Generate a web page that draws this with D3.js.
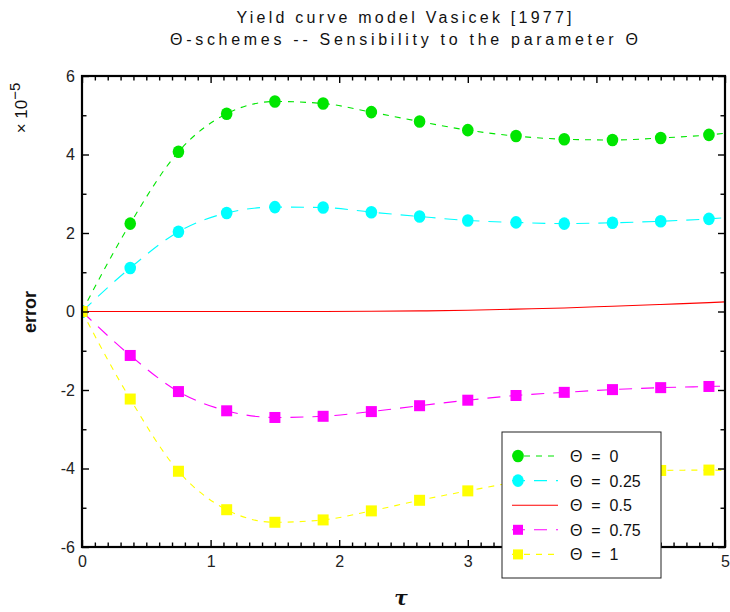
<!DOCTYPE html>
<html>
<head>
<meta charset="utf-8">
<script src="https://cdn.jsdelivr.net/npm/d3@7"></script>
<style>
  html, body { margin: 0; padding: 0; background: #fff; }
  svg { display: block; font-family: "Liberation Sans", Arial, sans-serif; }
</style>
</head>
<body>
<svg id="chart" width="730" height="612"></svg>
<script>
// ---- data ----
const tau = [0, 0.375, 0.75, 1.125, 1.5, 1.875, 2.25, 2.625, 3.0, 3.375, 3.75, 4.125, 4.5, 4.875, 5.0];
const theta0   = [0, 2.24, 4.07, 5.04, 5.35, 5.30, 5.08, 4.84, 4.62, 4.47, 4.39, 4.37, 4.42, 4.50, 4.54];
const theta025 = [0, 1.11, 2.03, 2.51, 2.66, 2.65, 2.53, 2.42, 2.32, 2.27, 2.24, 2.26, 2.30, 2.36, 2.39];
const theta05  = [0, 0, 0, 0, 0, 0, 0.005, 0.015, 0.03, 0.06, 0.09, 0.135, 0.18, 0.225, 0.245];
const theta075 = [0, -1.12, -2.04, -2.53, -2.70, -2.67, -2.55, -2.40, -2.26, -2.14, -2.06, -1.99, -1.94, -1.91, -1.90];
const theta1   = [0, -2.23, -4.07, -5.05, -5.37, -5.31, -5.08, -4.81, -4.57, -4.35, -4.21, -4.10, -4.05, -4.04, -4.05];
const seriesLabels = ["Θ = 0", "Θ = 0.25", "Θ = 0.5", "Θ = 0.75", "Θ = 1"];
const xTicks = [0, 1, 2, 3, 4, 5];
const xTickLabels = ["0", "1", "2", "3", "", "5"];
const yTicks = [-6, -4, -2, 0, 2, 4, 6];
const titleLines = ["Yield curve model Vasicek [1977]", "Θ-schemes -- Sensibility to the parameter Θ"];

// ---- styles ----
const styles = [
  { color: "#00e600", dash: "6,6",   marker: "circle" },
  { color: "#00ffff", dash: "13,9",  marker: "circle" },
  { color: "#ff0000", dash: null,    marker: null },
  { color: "#ff00ff", dash: "13,9",  marker: "square" },
  { color: "#ffff00", dash: "6,6",   marker: "square" }
];
const allValues = [theta0, theta025, theta05, theta075, theta1];

const svg = d3.select("#chart");
const L = 82, R = 725, T = 76, B = 547;
const x = d3.scaleLinear().domain([0, 5]).range([L, R]);
const y = d3.scaleLinear().domain([-6, 6]).range([B, T]);

svg.append("defs").append("clipPath").attr("id", "clip")
  .append("rect").attr("x", L).attr("y", T).attr("width", R - L).attr("height", B - T);

// ---- titles ----
const titleW = [335, 468];
titleLines.forEach((t, i) => {
  svg.append("text")
    .attr("x", 404).attr("y", 23 + i * 22)
    .attr("text-anchor", "middle")
    .attr("font-size", 16)
    .attr("fill", "#111")
    .attr("textLength", titleW[i]).attr("lengthAdjust", "spacing")
    .text(t);
});

// ---- series ----
const plot = svg.append("g").attr("clip-path", "url(#clip)");
const line = d3.line().x(d => x(d[0])).y(d => y(d[1])).curve(d3.curveMonotoneX);

allValues.forEach((vals, si) => {
  const st = styles[si];
  const pts = tau.map((t, i) => [t, vals[i]]);
  plot.append("path")
    .attr("d", line(pts))
    .attr("fill", "none")
    .attr("stroke", st.color)
    .attr("stroke-width", 1.1)
    .attr("stroke-dasharray", st.dash);
  const mpts = pts.filter((p, i) => i < pts.length - 1);
  if (st.marker === "circle") {
    plot.selectAll(null).data(mpts).enter().append("ellipse")
      .attr("cx", d => x(d[0])).attr("cy", d => y(d[1]))
      .attr("rx", 5.8).attr("ry", 6.3)
      .attr("fill", st.color);
  } else if (st.marker === "square") {
    plot.selectAll(null).data(mpts).enter().append("rect")
      .attr("x", d => x(d[0]) - 5.5).attr("y", d => y(d[1]) - 5.5)
      .attr("width", 11).attr("height", 11)
      .attr("fill", st.color);
  }
});

// ---- axes ----
const xMinor = d3.range(0, 50.5).map(i => i / 10).filter(v => Math.abs(v - Math.round(v)) > 1e-6);
const yMinor = [-5, -3, -1, 1, 3, 5];

function addAxis(axis, tx, ty) {
  const g = svg.append("g").attr("transform", `translate(${tx},${ty})`).call(axis);
  g.attr("font-size", 16).attr("font-family", "'Liberation Sans', Arial, sans-serif")
   .attr("color", "#000");
  g.selectAll(".tick line").attr("stroke-width", 1.4);
  g.selectAll(".tick text").attr("fill", "#222");
  return g;
}

// bottom
addAxis(d3.axisBottom(x).tickValues(xTicks).tickSizeInner(-7).tickSizeOuter(0).tickPadding(9)
  .tickFormat((d, i) => xTickLabels[i]), 0, B);
addAxis(d3.axisBottom(x).tickValues(xMinor).tickSizeInner(-4.5).tickSizeOuter(0).tickFormat(""), 0, B);
// top
addAxis(d3.axisTop(x).tickValues(xTicks).tickSizeInner(-7).tickSizeOuter(0).tickFormat(""), 0, T);
addAxis(d3.axisTop(x).tickValues(xMinor).tickSizeInner(-4.5).tickSizeOuter(0).tickFormat(""), 0, T);
// left
addAxis(d3.axisLeft(y).tickValues(yTicks).tickSizeInner(-7).tickSizeOuter(0).tickPadding(7)
  .tickFormat(d => String(d)), L, 0);
addAxis(d3.axisLeft(y).tickValues(yMinor).tickSizeInner(-4.5).tickSizeOuter(0).tickFormat(""), L, 0);
// right
addAxis(d3.axisRight(y).tickValues(yTicks).tickSizeInner(-7).tickSizeOuter(0).tickFormat(""), R, 0);
addAxis(d3.axisRight(y).tickValues(yMinor).tickSizeInner(-4.5).tickSizeOuter(0).tickFormat(""), R, 0);

// frame
svg.append("rect").attr("x", L).attr("y", T).attr("width", R - L).attr("height", B - T)
  .attr("fill", "none").attr("stroke", "#000").attr("stroke-width", 2.2);

// ---- axis labels ----
svg.append("text")
  .attr("transform", "translate(36,312) rotate(-90)")
  .attr("text-anchor", "middle")
  .attr("font-size", 18).attr("font-weight", "bold").attr("fill", "#111")
  .text("error");

const exp = svg.append("text")
  .attr("transform", "translate(27,108) rotate(-90)")
  .attr("text-anchor", "middle")
  .attr("font-size", 17).attr("fill", "#111");
exp.append("tspan").text("× 10");
exp.append("tspan").attr("dy", -7).attr("font-size", 15).text("−5");

svg.append("text")
  .attr("x", 401).attr("y", 605)
  .attr("text-anchor", "middle")
  .attr("font-size", 20).attr("font-weight", "bold").attr("font-style", "italic")
  .attr("font-family", "'DejaVu Serif', serif")
  .attr("fill", "#111")
  .text("τ");

// ---- legend ----
const lg = svg.append("g");
lg.append("rect").attr("x", 502).attr("y", 432).attr("width", 159).attr("height", 146)
  .attr("fill", "#fff").attr("stroke", "#222").attr("stroke-width", 1);
styles.forEach((st, i) => {
  const yy = 456 + i * 24.6;
  lg.append("line").attr("x1", 512).attr("x2", 558).attr("y1", yy).attr("y2", yy)
    .attr("stroke", st.color).attr("stroke-width", 1.1).attr("stroke-dasharray", st.dash);
  if (st.marker === "circle") {
    lg.append("ellipse").attr("cx", 518).attr("cy", yy).attr("rx", 5.8).attr("ry", 6.3).attr("fill", st.color);
  } else if (st.marker === "square") {
    lg.append("rect").attr("x", 513).attr("y", yy - 5).attr("width", 10).attr("height", 10).attr("fill", st.color);
  }
  lg.append("text").attr("x", 570).attr("y", yy + 6)
    .attr("font-size", 16).attr("fill", "#111")
    .style("white-space", "pre")
    .text(seriesLabels[i].replace(/ = /, "  =  "));
});
</script>
</body>
</html>
